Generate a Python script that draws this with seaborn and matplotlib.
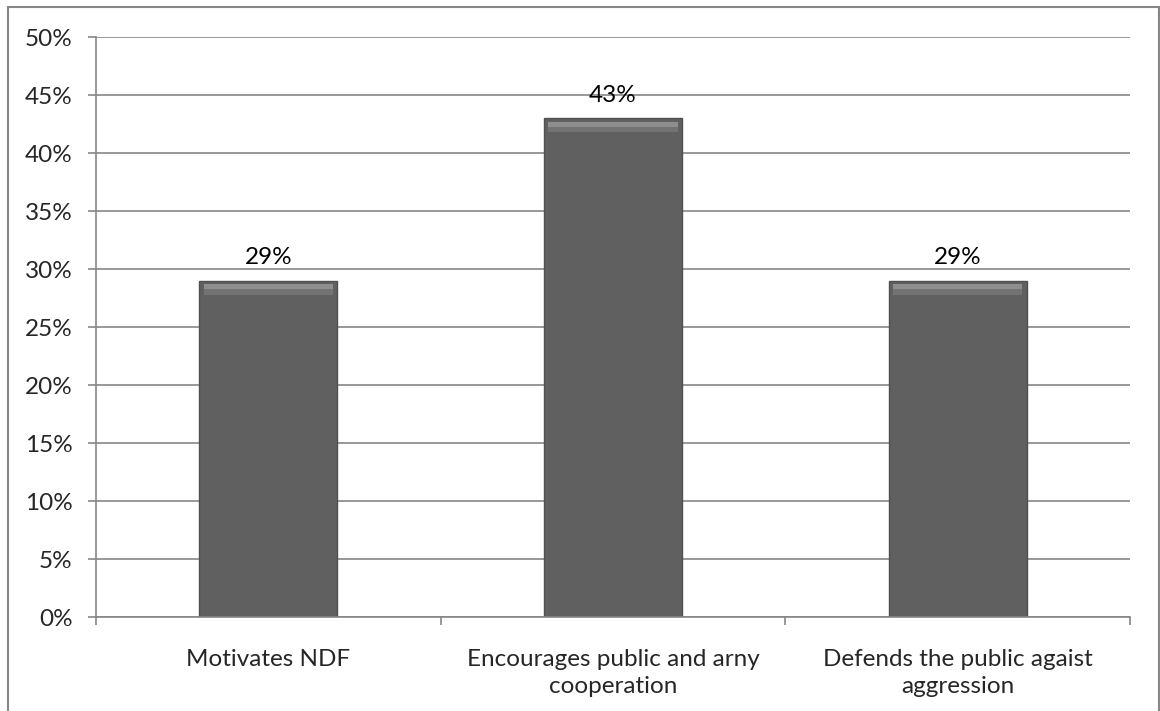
import numpy as np
import pandas as pd
import matplotlib
matplotlib.use('Agg')
import matplotlib.pyplot as plt
import seaborn as sns
from matplotlib.patches import Rectangle
from matplotlib.ticker import PercentFormatter

categories = ['Motivates NDF',
              'Encourages public and arny\ncooperation',
              'Defends the public agaist\naggression']
values = [29, 43, 29]
y_ticks = list(range(0, 55, 5))

sns.set_style('white')
plt.rcParams['font.family'] = ['Lato', 'DejaVu Sans']

df = pd.DataFrame({'category': categories, 'value': values})

fig = plt.figure(figsize=(11.6, 7.11), dpi=100)
ax = fig.add_axes([96 / 1160, 1 - 617 / 711, (1130 - 96) / 1160, (617 - 37) / 711])

# grid lines behind bars
ax.set_axisbelow(True)
ax.yaxis.grid(True, color='#868686', linewidth=1.2)
ax.xaxis.grid(False)

sns.barplot(data=df, x='category', y='value', color='#606060', width=0.4,
            saturation=1, edgecolor='#505050', linewidth=1, ax=ax)

# bevel highlight along the top of each bar
for p in ax.patches:
    x0, w, h = p.get_x(), p.get_width(), p.get_height()
    z = p.get_zorder() + 0.1
    ax.add_patch(Rectangle((x0 + w * 0.03, h - 0.75), w * 0.94, 0.45,
                           color='#8e8e8e', linewidth=0, zorder=z))
    ax.add_patch(Rectangle((x0 + w * 0.03, h - 1.2), w * 0.94, 0.45,
                           color='#737373', linewidth=0, zorder=z))

ax.bar_label(ax.containers[0], labels=[f'{v}%' for v in values],
             padding=9, fontsize=17.5, color='black')

ax.set_ylim(0, 50)
ax.set_yticks(y_ticks)
ax.yaxis.set_major_formatter(PercentFormatter(decimals=0))
ax.set_xlim(-0.5, 2.5)
ax.set_xlabel('')
ax.set_ylabel('')

ax.tick_params(axis='y', which='major', length=6, width=1.2, color='#868686',
               direction='out', left=True, labelsize=17.5, pad=11)
ax.tick_params(axis='x', which='major', length=0, labelsize=17.5, pad=23)
for lbl in ax.get_xticklabels():
    lbl.set_linespacing(1.35)
ax.set_xticks([-0.5, 0.5, 1.5, 2.5], minor=True)
ax.tick_params(axis='x', which='minor', length=6, width=1.2, color='#868686',
               direction='out', bottom=True)

for side in ['top', 'right']:
    ax.spines[side].set_visible(False)
for side in ['left', 'bottom']:
    ax.spines[side].set_color('#868686')
    ax.spines[side].set_linewidth(1.2)

# chart area border
fig.add_artist(Rectangle((8 / 1160, -0.02), (1159 - 8) / 1160, 1.02 - 7 / 711,
                         transform=fig.transFigure, fill=False,
                         edgecolor='#868686', linewidth=1.5))

fig.savefig('out.png', dpi=100)
